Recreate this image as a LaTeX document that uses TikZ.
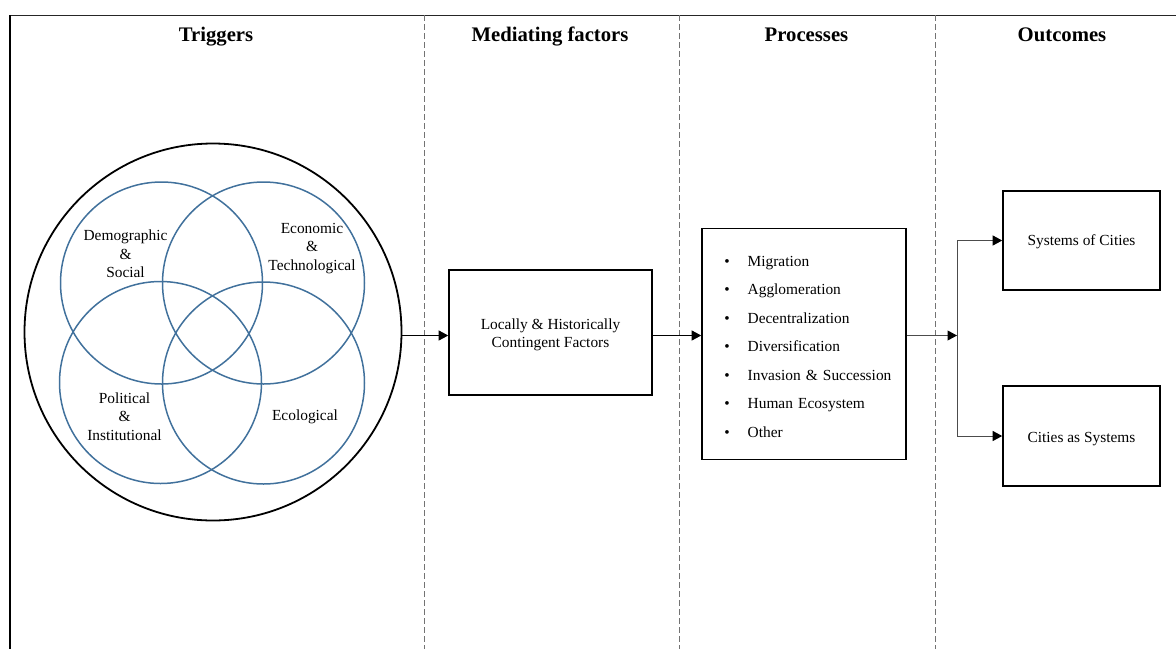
\documentclass[tikz,border=0pt]{standalone}
\usepackage{fontspec}
\setmainfont{Liberation Serif}
\usetikzlibrary{arrows.meta}
\definecolor{vennblue}{RGB}{65,113,156}
\newcommand\procitem[1]{\hspace*{22.4pt}\makebox[23.3pt][l]{\textbullet}#1}
% invisible strut that lowers the first line of a box
\newcommand\lowerby[1]{\rule{0pt}{\dimexpr 10.5pt+2\dimexpr #1\relax\relax}}
\begin{document}
\begin{tikzpicture}[x=1pt,y=-1pt,
  heading/.style={font=\fontsize{20.7}{24}\selectfont\bfseries, anchor=base, inner sep=0pt},
  vennlabel/.style={font=\fontsize{15.4}{18.3}\selectfont, align=center, inner sep=0pt},
  venn/.style={circle, draw=vennblue, line width=1.5pt, minimum size=202pt, inner sep=0pt},
  box/.style={draw, line width=1.6pt, inner sep=0pt, font=\fontsize{15.4}{18.7}\selectfont, align=center},
  conn/.style={line width=1pt, -{Triangle[length=9.5pt,width=10pt]}},
  branch/.style={line width=1pt, draw=black!70, -{Triangle[length=9.5pt,width=10pt,color=black]}},
  divider/.style={draw=black!55, line width=1pt, dash pattern=on 6pt off 3pt}
]
\useasboundingbox (0,0) rectangle (1176,649);

% frame and column dividers
\draw[black!85, line width=1pt] (10,15) -- (1176,15);
\draw[line width=1.8pt] (10,15) -- (10,649);
\draw[divider] (424,15) -- (424,649);
\draw[divider] (679,15) -- (679,649);
\draw[divider] (935,15) -- (935,649);

% column headings
\node[heading] (h1) at (216,41.7) {Triggers};
\node[heading] (h2) at (550,41.7) {Mediating factors};
\node[heading] (h3) at (806.5,41.7) {Processes};
\node[heading] (h4) at (1062,41.7) {Outcomes};

% triggers: enclosing circle and four-way Venn diagram
\node[circle, draw, line width=1.8pt, minimum size=377pt, inner sep=0pt] (trig) at (213,332) {};
\node[venn] (v1) at (161.5,283) {};
\node[venn] (v2) at (263.5,283) {};
\node[venn] (v3) at (160.5,382.5) {};
\node[venn] (v4) at (263.5,383) {};
\node[vennlabel] (l1) at (125.5,254) {Demographic\\\&\\Social};
\node[vennlabel] (l2) at (312,248.5) {Economic\\\&\\Technological};
\node[vennlabel] (l3) at (124.5,416.5) {Political\\\&\\Institutional};
\node[vennlabel] (l4) at (305,417) {Ecological};

% mediating factors
\node[box, minimum width=203pt, minimum height=125pt] (med) at (550.5,332.5)
  {\lowerby{2.5pt}Locally \& Historically\\Contingent Factors};

% processes
\node[box, align=left, text width=204pt, inner xsep=0pt, minimum height=231pt,
      font=\fontsize{15.4}{28.5}\selectfont] (proc) at (804,343.8)
  {\lowerby{3pt}\procitem{Migration}\\
   \procitem{Agglomeration}\\
   \procitem{Decentralization}\\
   \procitem{Diversification}\\
   \procitem{Invasion \& Succession}\\
   \procitem{Human Ecosystem}\\
   \procitem{Other}};

% outcomes
\node[box, minimum width=157pt, minimum height=99pt] (soc) at (1081.5,240.5)
  {\lowerby{1pt}Systems of Cities};
\node[box, minimum width=157pt, minimum height=100pt] (cas) at (1081.5,436)
  {\lowerby{2.5pt}Cities as Systems};

% connectors
\coordinate (row) at (0,335.5);
\coordinate (split) at (957,335.5);
\draw[conn] (trig.east |- row) -- (med.west |- row);
\draw[conn] (med.east |- row) -- (proc.west |- row);
\draw[branch] (proc.east |- row) -- (split);
\draw[branch] (split) |- (soc.west);
\draw[branch] (split) |- (cas.west);
\end{tikzpicture}
\end{document}
